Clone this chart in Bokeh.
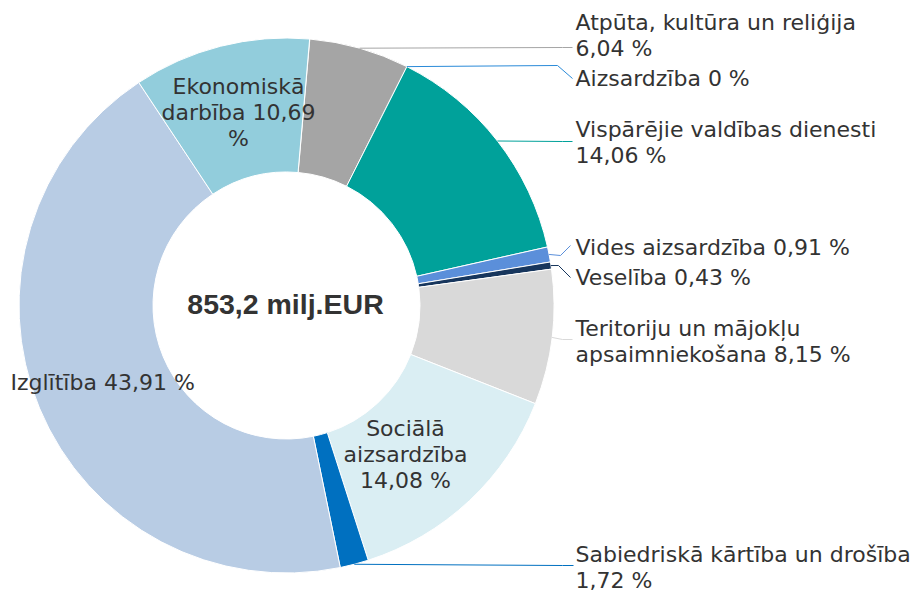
import math
from bokeh.plotting import figure
from bokeh.models import Range1d, ColumnDataSource
from bokeh.core.properties import value
from bokeh.embed import file_html
from bokeh.resources import INLINE

# ---- data ----
categories = [
    "Atpūta, kultūra un reliģija",
    "Aizsardzība",
    "Vispārējie valdības dienesti",
    "Vides aizsardzība",
    "Veselība",
    "Teritoriju un mājokļu apsaimniekošana",
    "Sociālā aizsardzība",
    "Sabiedriskā kārtība un drošība",
    "Izglītība",
    "Ekonomiskā darbība",
]
shares = [6.04, 0.0, 14.06, 0.91, 0.43, 8.15, 14.08, 1.72, 43.91, 10.69]
label_texts = [
    "Atpūta, kultūra un reliģija\n6,04 %",
    "Aizsardzība 0 %",
    "Vispārējie valdības dienesti\n14,06 %",
    "Vides aizsardzība 0,91 %",
    "Veselība 0,43 %",
    "Teritoriju un mājokļu\napsaimniekošana 8,15 %",
    "Sociālā\naizsardzība\n14,08 %",
    "Sabiedriskā kārtība un drošība\n1,72 %",
    "Izglītība 43,91 %",
    "Ekonomiskā\ndarbība 10,69\n%",
]
total_text = "853,2 milj.EUR"

# ---- styles / layout ----
colors = ["#a5a5a5", "#2a8ad8", "#00a19a", "#5b8fda", "#17365d",
          "#d9d9d9", "#daeef3", "#0070c0", "#b8cce4", "#92cddc"]
TEXT_COLOR = "#333333"
W, H = 912, 592
CX, CY_SCREEN = 286, 305
R_OUT, R_IN = 267.5, 133.5
START_DEG = 5.0
LINE_STEP = 26
TEXT_SHIFT = -8

def sy(y):  # screen y -> data y
    return H - y

# label anchor (x, first baseline screen-y, align), connector (elbow, end) or None
label_layout = [
    (575, 30, "left", [(562, 47), (572, 47)]),
    (575, 86, "left", [(557, 65), (572, 78)]),
    (575, 137, "left", [(562, 141), (572, 141)]),
    (575, 255, "left", [(560, 255), (570, 245)]),
    (575, 285, "left", [(558, 265), (570, 277)]),
    (575, 336, "left", [(562, 339), (572, 339)]),
    (405, 436, "center", None),
    (575, 562, "left", [(562, 565), (573, 565)]),
    (10, 390, "left", None),
    (238, 94, "center", None),
]

p = figure(width=W, height=H, x_range=Range1d(0, W), y_range=Range1d(0, H),
           output_backend="svg", toolbar_location=None, min_border=0,
           x_axis_type=None, y_axis_type=None)
p.grid.visible = False
p.outline_line_color = None
p.background_fill_color = "white"
p.border_fill_color = "white"

# wedges
starts, ends, mids = [], [], []
cum = START_DEG
for v in shares:
    s = cum
    e = cum + v * 3.6
    starts.append(s)
    ends.append(e)
    mids.append((s + e) / 2)
    cum = e

sa, ea, fc = [], [], []
for i, v in enumerate(shares):
    if v <= 0:
        continue
    sa.append(math.radians(90 - starts[i]))
    ea.append(math.radians(90 - ends[i]))
    fc.append(colors[i])
src = ColumnDataSource(dict(x=[CX] * len(sa), y=[sy(CY_SCREEN)] * len(sa), sa=sa, ea=ea, fc=fc))
p.annular_wedge(x="x", y="y", inner_radius=R_IN, outer_radius=R_OUT,
                start_angle="sa", end_angle="ea", direction="clock",
                fill_color="fc", line_color="white", line_width=1, source=src)

# connectors
for i, (lx, ly, al, conn) in enumerate(label_layout):
    if conn is None:
        continue
    th = math.radians(mids[i])
    x0 = CX + R_OUT * math.sin(th)
    y0 = CY_SCREEN - R_OUT * math.cos(th)
    xs = [x0] + [c[0] for c in conn]
    ys = [sy(y0)] + [sy(c[1]) for c in conn]
    p.line(xs, ys, line_color=colors[i], line_width=1)

# labels
tx, ty, tt, ta = [], [], [], []
for i, (lx, ly, al, conn) in enumerate(label_layout):
    for k, line in enumerate(label_texts[i].split("\n")):
        tx.append(lx)
        ty.append(sy(ly + TEXT_SHIFT + k * LINE_STEP))
        tt.append(line)
        ta.append(al)
tsrc = ColumnDataSource(dict(x=tx, y=ty, t=tt, a=ta))
p.text(x="x", y="y", text="t", text_align="a", text_baseline="alphabetic",
       text_font=value("DejaVu Sans"), text_font_size="22px",
       text_color=TEXT_COLOR, source=tsrc)

p.text(x=[285], y=[sy(303)], text=[total_text], text_align="center",
       text_baseline="alphabetic", text_font=value("Liberation Sans"),
       text_font_style="bold", text_font_size="28.5px", text_color=TEXT_COLOR)

open("out.html", "w").write(file_html(p, INLINE))
